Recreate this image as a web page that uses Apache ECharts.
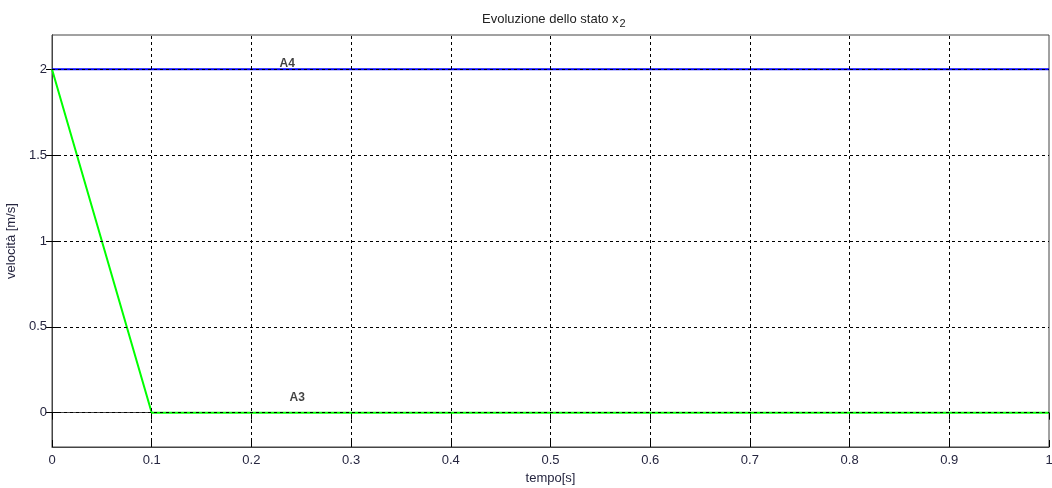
<!DOCTYPE html>
<html>
<head>
<meta charset="utf-8">
<script src="https://cdn.jsdelivr.net/npm/echarts@6/dist/echarts.min.js"></script>
<style>
  html, body { margin: 0; padding: 0; background: #fff; }
  #chart { width: 1052px; height: 488px; }
</style>
</head>
<body>
<div id="chart"></div>
<script>
// State x2 velocity over time for two components
const tempo = [0, 0.1, 1];
const velA4 = [2, 2, 2];
const velA3 = [2, 0, 0];
const yTicks = [0, 0.5, 1, 1.5, 2];
const xGrid = [0.1, 0.2, 0.3, 0.4, 0.5, 0.6, 0.7, 0.8, 0.9];
const labels = [
  { name: 'A4', x: 0.236, y: 2.035 },
  { name: 'A3', x: 0.246, y: 0.087 }
];

const font = 'Liberation Sans, Arial, sans-serif';
const axisCol = '#444';
const textCol = '#262640';
const fs = 13;

const chart = echarts.init(document.getElementById('chart'));

const gridLine = { color: '#000', width: 1, type: [3, 3] };

chart.setOption({
  animation: false,
  backgroundColor: '#fff',
  title: {
    text: 'Evoluzione dello stato {n|x}{s|2}',
    left: 477,
    top: 4,
    textStyle: {
      fontFamily: font, fontSize: fs, fontWeight: 'normal', color: '#222',
      rich: {
        n: { fontFamily: font, fontSize: fs, color: '#222' },
        s: { fontFamily: font, fontSize: 11, color: '#222', padding: [9, 0, 0, 1] }
      }
    }
  },
  grid: {
    left: 52, right: 3, top: 35, bottom: 41,
    outerBoundsMode: 'none', containLabel: false,
    show: true, borderColor: axisCol, borderWidth: 1
  },
  xAxis: [
    {
      type: 'value', min: 0, max: 1, interval: 0.1,
      name: 'tempo[s]', nameLocation: 'middle', nameGap: 25,
      nameTextStyle: { fontFamily: font, fontSize: fs, color: textCol },
      axisLine: { show: true, onZero: false, lineStyle: { color: axisCol } },
      axisTick: { show: true, inside: true, length: 7, lineStyle: { color: '#000' } },
      axisLabel: { fontFamily: font, fontSize: fs, color: textCol, margin: 7 },
      splitLine: { show: false }
    },
    {
      type: 'value', min: 0, max: 1, interval: 0.1, position: 'top',
      axisLine: { show: true, lineStyle: { color: axisCol } },
      axisTick: { show: true, inside: true, length: 7, lineStyle: { color: '#000' } },
      axisLabel: { show: false },
      splitLine: { show: false }
    }
  ],
  yAxis: [
    {
      type: 'value', min: -0.2, max: 2.2,
      name: 'velocità [m/s]', nameLocation: 'middle', nameGap: 31, nameRotate: 90,
      nameTextStyle: { fontFamily: font, fontSize: fs, color: textCol },
      axisLine: { show: true, onZero: false, lineStyle: { color: axisCol } },
      axisTick: { show: true, inside: true, length: 6, customValues: yTicks, lineStyle: { color: '#000' } },
      axisLabel: { fontFamily: font, fontSize: fs, color: textCol, margin: 5, customValues: yTicks },
      splitLine: { show: false }
    },
    {
      type: 'value', min: -0.2, max: 2.2, position: 'right',
      axisLine: { show: true, lineStyle: { color: axisCol } },
      axisTick: { show: true, inside: true, length: 6, customValues: yTicks, lineStyle: { color: '#000' } },
      axisLabel: { show: false, customValues: yTicks },
      splitLine: { show: false }
    }
  ],
  series: [
    {
      // dotted grid
      type: 'line', data: [], silent: true,
      markLine: {
        silent: true, symbol: 'none', animation: false,
        label: { show: false },
        lineStyle: gridLine,
        data: yTicks.map(v => ({ yAxis: v })).concat(xGrid.map(v => ({ xAxis: v })))
      },
      z: 1
    },
    {
      name: 'A4', type: 'line', showSymbol: false, z: 3,
      lineStyle: { color: '#0000ff', width: 2 },
      data: tempo.map((t, i) => [t, velA4[i]])
    },
    {
      name: 'A3', type: 'line', showSymbol: false, z: 4,
      lineStyle: { color: '#00ff00', width: 2 },
      data: tempo.map((t, i) => [t, velA3[i]])
    },
    {
      type: 'scatter', symbolSize: 0, silent: true, z: 5,
      data: labels.map(l => ({ value: [l.x, l.y], name: l.name })),
      label: {
        show: true, position: 'inside', formatter: p => p.name,
        fontFamily: font, fontWeight: 'bold', fontSize: 12, color: '#111'
      }
    }
  ]
});
</script>
</body>
</html>
